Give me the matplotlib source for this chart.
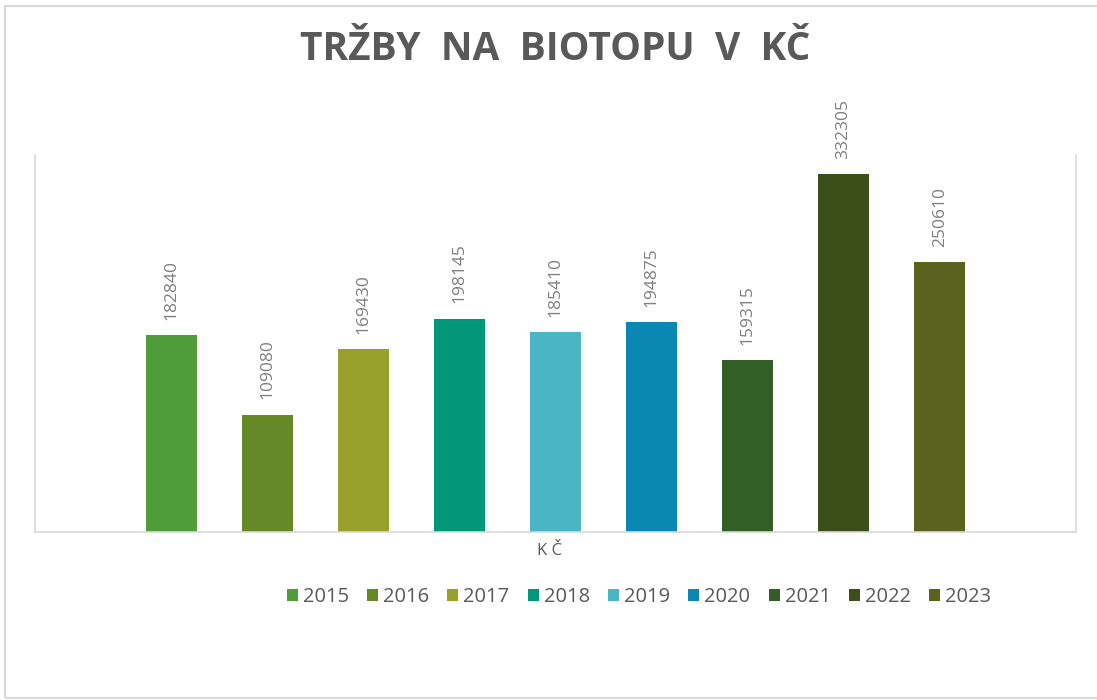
import matplotlib
matplotlib.use('Agg')
import matplotlib.pyplot as plt
from matplotlib.patches import Rectangle

# data
years = ['2015', '2016', '2017', '2018', '2019', '2020', '2021', '2022', '2023']
revenue = [182840, 109080, 169430, 198145, 185410, 194875, 159315, 332305, 250610]
colors = ['#4F9C3A', '#678826', '#96A02A', '#03977A', '#4AB5C4',
          '#0A87B2', '#315F25', '#3C4F19', '#5B621E']
category = 'KČ'
title = 'TRŽBY  NA  BIOTOPU  V  KČ'

plt.rcParams['font.family'] = ['Open Sans', 'DejaVu Sans']
grey_text = '#595959'
line_grey = '#D9D9D9'

fig = plt.figure(figsize=(10.97, 7.0), dpi=100)
ax = fig.add_axes([35 / 1097, 1 - 532 / 700, (1076 - 35) / 1097, (532 - 155) / 700])

n = len(years)
offsets = [i - (n - 1) / 2 for i in range(n)]
bars = []
for x, val, col, yr in zip(offsets, revenue, colors, years):
    b = ax.bar(x, val, width=0.53, color=col, label=yr)
    bars.append(b)
    ax.annotate(str(val), (x, val), xytext=(0, 11), textcoords='offset points',
                rotation=90, ha='center', va='bottom', fontsize=12.5, color='#7F7F7F')

ax.set_xlim(-5.42, 5.42)
ax.set_ylim(0, 350000)
ax.set_xticks([])
ax.set_yticks([])
ax.spines['top'].set_visible(False)
for s in ['left', 'right', 'bottom']:
    ax.spines[s].set_color(line_grey)
    ax.spines[s].set_linewidth(1.2)

fig.text(550 / 1097, 1 - 551 / 700, ' '.join(category), ha='center', va='center',
         fontsize=12, color=grey_text)

fig.text(555 / 1097, 1 - 49 / 700, title, ha='center', va='center',
         fontsize=28, fontweight='bold', color=grey_text)

fig.legend(handles=bars, labels=years, loc='center',
           bbox_to_anchor=(639 / 1097, 1 - 597 / 700), ncol=n, frameon=False,
           fontsize=14.5, handlelength=0.55, handleheight=0.55, handletextpad=0.25,
           columnspacing=0.9, labelcolor=grey_text)

# outer chart frame
fig.patches.append(Rectangle((5 / 1097, 2 / 700), 1.0, 692 / 700,
                             transform=fig.transFigure, fill=False,
                             edgecolor=line_grey, linewidth=1.5))

fig.savefig('out.png', dpi=100)
